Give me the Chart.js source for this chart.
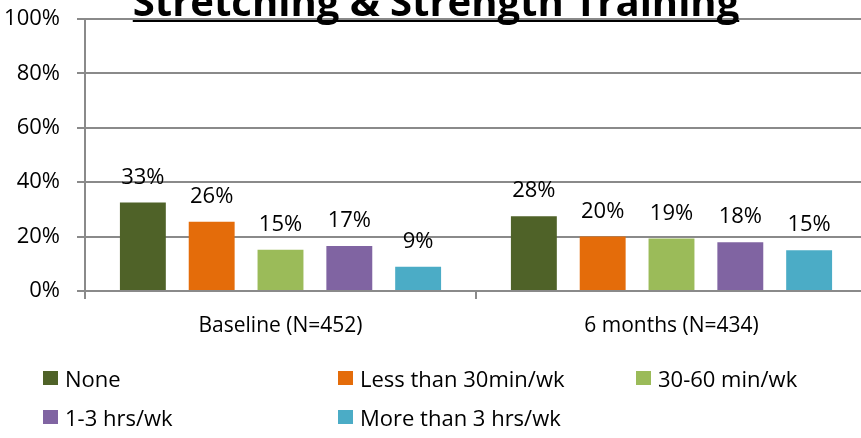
<!DOCTYPE html>
<html>
<head>
<meta charset="utf-8">
<script src="https://cdn.jsdelivr.net/npm/chart.js@4"></script>
<style>
  html, body { margin: 0; padding: 0; background: #fff; overflow: hidden; width: 861px; height: 438px; }
  #wrap { position: absolute; left: 0; top: 0; width: 870px; height: 345px; }
  #legend { position: absolute; left: 0; top: 0; width: 861px; height: 438px; font-family: 'Open Sans'; font-size: 22px; color: #000; }
  .item { position: absolute; display: flex; align-items: center; white-space: nowrap; height: 28px; line-height: 28px; }
  .box { width: 15px; height: 14px; margin-right: 7px; }
</style>
</head>
<body>
<div id="wrap"><canvas id="chart" width="870" height="345"></canvas></div>
<div id="legend"></div>
<script>
const categories = ['Baseline (N=452)', '6 months (N=434)'];
const seriesNames = ['None', 'Less than 30min/wk', '30-60 min/wk', '1-3 hrs/wk', 'More than 3 hrs/wk'];
const noneVals   = [32.5, 27.5];
const lt30Vals   = [25.5, 20.0];
const m3060Vals  = [15.2, 19.3];
const h13Vals    = [16.5, 17.9];
const gt3Vals    = [8.9, 15.0];
const yTickStep  = 20;
const yMax       = 100;

const COLORS = ['#4f6228', '#e46c0a', '#9bbb59', '#8064a2', '#4bacc6'];
const GRID_COLOR = '#8a8a8a';
const FONT = 'Open Sans';

const seriesValues = [noneVals, lt30Vals, m3060Vals, h13Vals, gt3Vals];

const titlePlugin = {
    id: 'topTitle',
    afterDraw(chart) {
        const ctx = chart.ctx;
        const text = 'Stretching & Strength Training';
        ctx.save();
        ctx.font = 'bold 40px "' + FONT + '"';
        ctx.fillStyle = '#000';
        ctx.textAlign = 'center';
        ctx.textBaseline = 'alphabetic';
        const cx = 436;
        ctx.fillText(text, cx, 16);
        const w = ctx.measureText(text).width;
        ctx.fillRect(cx - w / 2, 20, w, 2);
        ctx.restore();
    }
};

const valueLabels = {
    id: 'valueLabels',
    afterDatasetsDraw(chart) {
        const ctx = chart.ctx;
        ctx.save();
        ctx.font = '22px "' + FONT + '"';
        ctx.fillStyle = '#000';
        ctx.textAlign = 'center';
        ctx.textBaseline = 'alphabetic';
        chart.data.datasets.forEach((ds, i) => {
            chart.getDatasetMeta(i).data.forEach((bar, j) => {
                ctx.fillText(Math.round(ds.data[j]) + '%', bar.x, bar.y - 19);
            });
        });
        ctx.restore();
    }
};

const chart = new Chart(document.getElementById('chart'), {
    type: 'bar',
    data: {
        labels: categories,
        datasets: seriesNames.map((name, i) => ({
            label: name,
            data: seriesValues[i],
            backgroundColor: COLORS[i],
            borderWidth: 0,
            categoryPercentage: 0.88,
            barPercentage: 0.667
        }))
    },
    options: {
        responsive: false,
        animation: false,
        layout: { padding: { top: 19, right: 3, left: 0, bottom: 0 } },
        plugins: {
            legend: { display: false },
            tooltip: { enabled: false }
        },
        scales: {
            x: {
                grid: { offset: true, drawOnChartArea: false, color: GRID_COLOR, lineWidth: 2, tickLength: 8 },
                border: { display: false },
                ticks: { color: '#000', padding: 14, font: { family: FONT, size: 21 } },
                afterFit: s => { s.height = 54; s.paddingLeft = 0; s.paddingRight = 0; }
            },
            y: {
                min: 0,
                max: yMax,
                grid: { color: GRID_COLOR, lineWidth: 2, tickLength: 8 },
                border: { display: true, color: GRID_COLOR, width: 2 },
                ticks: {
                    stepSize: yTickStep,
                    color: '#000',
                    padding: 17,
                    font: { family: FONT, size: 22 },
                    callback: v => v + '%'
                },
                afterFit: s => { s.width = 85; s.paddingTop = 0; s.paddingBottom = 0; }
            }
        }
    },
    plugins: [valueLabels, titlePlugin]
});

// legend laid out in Excel-style columns
const legendCols = [43, 338, 636];
const legendRows = [378, 417];
const legendEl = document.getElementById('legend');
chart.data.datasets.forEach((ds, i) => {
    const item = document.createElement('div');
    item.className = 'item';
    item.style.left = legendCols[i % 3] + 'px';
    item.style.top = (legendRows[Math.floor(i / 3)] - 14) + 'px';
    const box = document.createElement('span');
    box.className = 'box';
    box.style.background = ds.backgroundColor;
    const txt = document.createElement('span');
    txt.textContent = ds.label;
    item.appendChild(box);
    item.appendChild(txt);
    legendEl.appendChild(item);
});
</script>
</body>
</html>
